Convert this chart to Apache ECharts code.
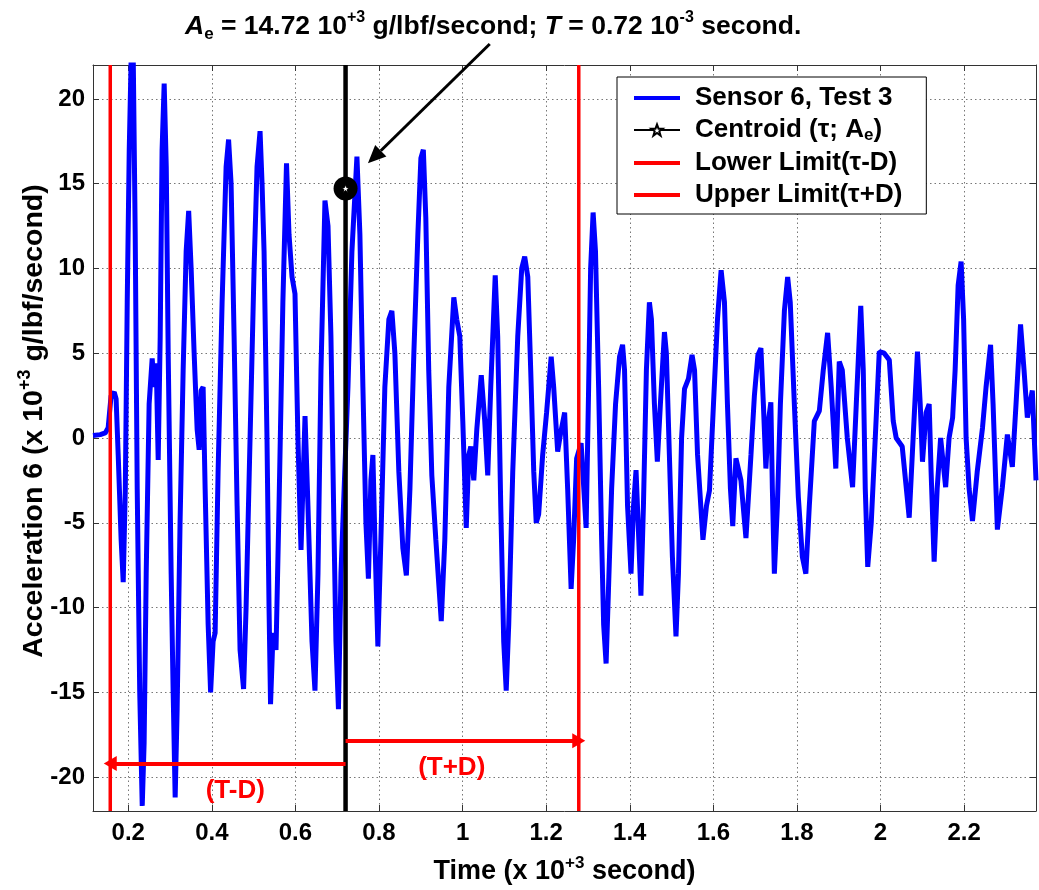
<!DOCTYPE html>
<html>
<head>
<meta charset="utf-8">
<script src="https://cdn.jsdelivr.net/npm/echarts@6/dist/echarts.min.js"></script>
<style>html,body{margin:0;padding:0;background:#fff;}#c{width:1039px;height:890px;}</style>
</head>
<body>
<div id="c"></div>
<script>
// ---------------- DATA ----------------
const timeK = [0.1157,0.133,0.145,0.152,0.159,0.1665,0.171,0.176,0.183,0.188,0.193,0.1976,0.2024,0.207,0.212,0.2167,0.2215,0.2275,0.2335,0.238,
0.243,0.250,0.2573,0.262,0.267,0.2717,0.2765,0.281,0.286,0.291,0.2956,0.3027,0.3075,0.3123,0.317,0.324,0.3314,0.3386,0.3446,0.3505,
0.3577,0.3649,0.3697,0.3744,0.3792,0.384,0.3912,0.3971,0.4031,0.4079,0.415,0.4246,0.4342,0.4401,0.4461,0.4533,0.4605,0.4676,0.476,0.482,
0.4915,0.5011,0.5082,0.5154,0.5202,0.525,0.532,0.5369,0.5405,0.5465,0.5536,0.5608,0.570,0.5787,0.5847,0.5919,0.599,0.606,0.6134,0.623,
0.630,0.6397,0.6468,0.654,0.6612,0.6707,0.678,0.685,0.692,0.697,0.703,0.709,0.7166,0.7257,0.7352,0.7472,0.7543,0.7615,0.7687,0.7747,
0.7806,0.7854,0.7902,0.7973,0.8045,0.814,0.8236,0.8308,0.838,0.8475,0.8571,0.8655,0.874,0.8834,0.893,0.9002,0.9061,0.912,0.919,0.9264,
0.936,0.949,0.9575,0.967,0.979,0.986,0.9933,1.0005,1.0088,1.0148,1.0196,1.0268,1.034,1.0447,1.053,1.0602,1.0674,1.0781,1.084,1.0913,
1.0984,1.1044,1.1104,1.12,1.132,1.1415,1.1486,1.156,1.163,1.1703,1.1762,1.182,1.1916,1.201,1.212,1.218,1.2275,1.2347,1.2442,1.2514,
1.2597,1.2657,1.2729,1.2836,1.2956,1.3016,1.3064,1.3123,1.318,1.3255,1.3327,1.3375,1.3434,1.349,1.3566,1.366,1.3756,1.3828,1.3875,1.3947,
1.403,1.409,1.415,1.42,1.4267,1.4327,1.4398,1.447,1.4518,1.459,1.466,1.4733,1.483,1.4876,1.4948,1.502,1.5106,1.5165,1.524,1.531,
1.5405,1.549,1.555,1.5622,1.5751,1.5836,1.5907,1.6003,1.6099,1.6186,1.6266,1.6337,1.6409,1.6464,1.654,1.666,1.678,1.69,1.6982,1.7066,
1.7138,1.7197,1.7257,1.7317,1.7376,1.7412,1.746,1.7532,1.7604,1.77,1.7778,1.784,1.7938,1.8034,1.8129,1.8213,1.8296,1.8416,1.8536,1.863,
1.8734,1.882,1.893,1.9013,1.9085,1.9205,1.9331,1.942,1.9527,1.9587,1.9635,1.9694,1.9778,1.9874,1.997,2.0088,2.021,2.0304,2.0375,2.0519,
2.0686,2.078,2.0884,2.095,2.1004,2.109,2.1164,2.121,2.1283,2.1355,2.1438,2.1558,2.164,2.1725,2.1785,2.1857,2.1928,2.1988,2.2048,2.212,
2.22,2.2313,2.244,2.2525,2.2633,2.2693,2.2796,2.2915,2.3035,2.3154,2.3242,2.335,2.3434,2.3513,2.3632,2.372];
const accel6 = [0.15,0.2,0.3,0.6,2.5,2.7,2.3,-1.0,-6,-8.5,-3,8,17,22.4,22.4,12,-3,-15,-21.7,-18,
-8,2,4.7,3,4.4,-1.3,6,17,20.9,16,5,-8,-15,-21.2,-16,-5,4,11,13.4,10,
5,0.5,-0.7,2.8,3.0,-3,-11,-15,-12,-11.5,-2,8,16,17.6,15,6,-4,-12.5,-14.8,-10,
0,10,16,18.1,15,11,0,-10,-15.7,-11.5,-12.5,-4,8,16.2,12,9.5,8.5,0,-6.6,1.3,
-4,-12,-14.9,-8,4,14,12.5,6,-5,-12,-16,-8,-3,3,11,16.6,12,3,-5,-8.3,
-2.5,-1.0,-6,-12.3,-6,3,7,7.5,5,-2,-6.5,-8.1,-3,5,12,16.5,17.0,13,4,-2.2,
-6,-10.8,-6,3,8.3,7,6,1,-5.3,-1,-0.5,-2.5,0.5,3.7,1,-2.2,3,9.6,6,-4,
-12,-14.9,-11,-2,6,10,10.7,9.5,4,-2,-5.0,-4.5,-1,1.5,4.8,3,-0.8,0.3,1.5,-3,
-8.9,-6,-1.2,-0.3,-5.3,3,10,13.3,11,3,-6,-11,-13.3,-9,-3,2,4.8,5.5,4,-4,
-8.0,-4,-1.9,-5,-9.3,-4,4,8.0,7,2,-1.4,2,6.25,5,-1,-7,-11.7,-8,0,2.9,
3.5,4.9,4,-1,-6,-4,-3.1,2,7,9.9,8,2,-3,-5.2,-1.2,-2.5,-5.9,-1.0,2.5,4.9,
5.3,2,-1.8,1,2.1,-3,-8.0,-4,2,7.5,9.5,8,2,-3.5,-7,-8.0,-4,1.0,1.6,4,
6.2,3,-1.8,4.5,4,0,-2.9,2,7.8,4,-3,-7.6,-5,0,5.1,5.0,4.6,1,0,-0.5,
-4.7,0,5.1,2,-1.4,1.5,2.0,-2,-7.3,-3,0,-2.9,0,1.2,4,9,10.4,7,0,-3,
-4.9,-2,0.6,3,5.5,2,-5.4,-2.9,0.2,-1.7,2,6.7,4,1.2,2.8,-2.5];

const xRange = [0.1157, 2.372];
const yRange = [-22, 22];
const centroidT = [0.72];
const centroidA = [14.72];
const lowerLimitT = [0.157];
const upperLimitT = [1.278];
const arrowRowY = [-19.2, -17.85];       // (T-D) and (T+D) arrows
const spanLabelText = ['(T-D)', '(T+D)'];
const spanLabelX = [0.456, 0.974];
const spanLabelY = [-20.8, -19.45];
const pointerFrom = [1.065, 23.24];      // black annotation arrow tail
const pointerTo = [0.7735, 16.2];        // black annotation arrow head
const seriesNames = ['Sensor 6, Test 3', 'Centroid (τ; Ae)', 'Lower Limit(τ-D)', 'Upper Limit(τ+D)'];

// ---------------- CHART ----------------
const FF = "'Liberation Sans', Arial, Helvetica, sans-serif";
const chart = echarts.init(document.getElementById('c'), null, {renderer: 'canvas'});

function supRich(size) {
  return {
    n: {fontSize: size, fontWeight: 'bold', fontFamily: FF, color: '#000', lineHeight: size + 6},
    i: {fontSize: size, fontWeight: 'bold', fontStyle: 'italic', fontFamily: FF, color: '#000', lineHeight: size + 6},
    sup: {fontSize: Math.round(size * 0.62), fontWeight: 'bold', fontFamily: FF, color: '#000', verticalAlign: 'top', lineHeight: Math.round(size * 0.62)},
    sub: {fontSize: Math.round(size * 0.66), fontWeight: 'bold', fontFamily: FF, color: '#000', verticalAlign: 'bottom', lineHeight: Math.round(size * 0.66)}
  };
}

const gridLine = {show: true, lineStyle: {color: '#777', type: [1.5, 3], width: 1}};

function xLabelFmt(v) {
  const k = v / 0.2;
  if (Math.abs(k - Math.round(k)) > 1e-6) return '';
  return String(parseFloat(v.toFixed(1)));
}
function yLabelFmt(v) {
  const k = v / 5;
  if (Math.abs(k - Math.round(k)) > 1e-6) return '';
  return String(Math.round(v));
}

const sensorData = timeK.map((t, i) => [t, accel6[i]]);

const legendData = seriesNames.map((n, i) => (i === 1
  ? {name: n}
  : {name: n, itemStyle: {opacity: 0}, lineStyle: {width: 4}}));

const option = {
  animation: false,
  backgroundColor: '#fff',
  title: {
    left: 180, top: 5,
    text: '{i|A}{sub|e}{n| = 14.72 10}{sup|+3}{n| g/lbf/second; }{i|T}{n| = 0.72 10}{sup|-3}{n| second.}',
    textStyle: {rich: supRich(26.5)}
  },
  grid: {left: 93, right: 2, top: 65, bottom: 74, containLabel: false},
  xAxis: [{
    type: 'value', min: xRange[0], max: xRange[1], minInterval: 0.2, maxInterval: 0.2,
    axisLine: {show: true, onZero: false, lineStyle: {color: '#333'}},
    axisTick: {show: true, inside: true, length: 6, lineStyle: {color: '#333'}},
    splitLine: gridLine,
    axisLabel: {formatter: xLabelFmt, fontSize: 24, fontWeight: 'bold', fontFamily: FF, color: '#000', margin: 10, showMinLabel: true, showMaxLabel: true},
    name: '{n|Time (x 10}{sup|+3}{n| second)}',
    nameLocation: 'middle', nameGap: 44, nameMoveOverlap: false,
    nameTextStyle: {rich: supRich(27)}
  }, {
    type: 'value', position: 'top', min: xRange[0], max: xRange[1], minInterval: 0.2, maxInterval: 0.2,
    axisLine: {show: true, onZero: false, lineStyle: {color: '#333'}},
    axisTick: {show: true, inside: true, length: 6, lineStyle: {color: '#333'}},
    splitLine: {show: false}, axisLabel: {show: false}
  }],
  yAxis: [{
    type: 'value', min: yRange[0], max: yRange[1], minInterval: 5, maxInterval: 5,
    axisLine: {show: true, onZero: false, lineStyle: {color: '#333'}},
    axisTick: {show: true, inside: true, length: 6, lineStyle: {color: '#333'}},
    splitLine: gridLine,
    axisLabel: {formatter: yLabelFmt, fontSize: 24, fontWeight: 'bold', fontFamily: FF, color: '#000', margin: 8},
    name: '{n|Acceleration 6 (x 10}{sup|+3}{n| g/lbf/second)}',
    nameLocation: 'middle', nameGap: 42, nameMoveOverlap: false,
    nameTextStyle: {rich: supRich(28.5), padding: [0, 0, 0, 34]}
  }, {
    type: 'value', position: 'right', min: yRange[0], max: yRange[1], minInterval: 5, maxInterval: 5,
    axisLine: {show: true, onZero: false, lineStyle: {color: '#333'}},
    axisTick: {show: true, inside: true, length: 6, lineStyle: {color: '#333'}},
    splitLine: {show: false}, axisLabel: {show: false}
  }],
  legend: {
    data: legendData,
    orient: 'vertical',
    left: 617, top: 77,
    backgroundColor: '#fff',
    borderColor: '#000', borderWidth: 1, borderRadius: 0,
    padding: [8, 24, 6, 15],
    itemWidth: 46, itemHeight: 14, itemGap: 6,
    selectedMode: false,
    formatter: function (name) {
      if (name === seriesNames[1]) return '{n|Centroid (τ; A}{sub|e}{n|)}';
      return '{n|' + name + '}';
    },
    textStyle: {
      fontSize: 26, fontWeight: 'bold', fontFamily: FF, color: '#000', padding: [0, 0, 0, 10],
      rich: {
        n: {fontSize: 26, fontWeight: 'bold', fontFamily: FF, color: '#000', lineHeight: 28},
        sub: {fontSize: 17, fontWeight: 'bold', fontFamily: FF, color: '#000', verticalAlign: 'bottom', lineHeight: 14}
      }
    }
  },
  series: [
    {
      name: seriesNames[0], type: 'line', data: sensorData, symbol: 'none', clip: true,
      lineStyle: {color: '#0000ff', width: 5}, itemStyle: {color: '#0000ff'}, z: 3
    },
    {
      name: 'centroidLine', type: 'line', symbol: 'none', clip: false,
      data: [[centroidT[0], yRange[0]], [centroidT[0], yRange[1]]],
      lineStyle: {color: '#000', width: 4.5}, z: 4,
      markLine: {
        silent: true, symbol: ['none', 'triangle'], symbolSize: [15, 13],
        label: {show: false},
        lineStyle: {color: '#ff0000', width: 4, type: 'solid', opacity: 1},
        itemStyle: {color: '#ff0000'},
        data: [
          [{coord: [centroidT[0], arrowRowY[0]]}, {coord: [lowerLimitT[0], arrowRowY[0]]}],
          [{coord: [centroidT[0], arrowRowY[1]]}, {coord: [upperLimitT[0], arrowRowY[1]]}]
        ]
      }
    },
    {
      name: seriesNames[2], type: 'line', symbol: 'none',
      data: [[lowerLimitT[0], yRange[0]], [lowerLimitT[0], yRange[1]]],
      lineStyle: {color: '#ff0000', width: 3.5}, itemStyle: {color: '#ff0000'}, z: 4
    },
    {
      name: seriesNames[3], type: 'line', symbol: 'none',
      data: [[upperLimitT[0], yRange[0]], [upperLimitT[0], yRange[1]]],
      lineStyle: {color: '#ff0000', width: 3.5}, itemStyle: {color: '#ff0000'}, z: 4
    },
    {
      name: 'centroidDot', type: 'scatter', symbol: 'circle', symbolSize: 24,
      data: [[centroidT[0], centroidA[0]]], itemStyle: {color: '#000', opacity: 1}, z: 5
    },
    {
      name: seriesNames[1], type: 'line',
      symbol: 'path://M12,1 L15,9 L23,9 L16.5,14 L19,22 L12,17 L5,22 L7.5,14 L1,9 L9,9 Z',
      symbolSize: 8, showSymbol: true,
      data: [[centroidT[0], centroidA[0]]],
      lineStyle: {color: '#000', width: 1},
      itemStyle: {color: '#fff', borderColor: '#000', borderWidth: 1}, z: 6
    },
    {
      name: 'spanLabels', type: 'scatter', symbolSize: 1,
      itemStyle: {color: 'rgba(0,0,0,0)', opacity: 1},
      data: spanLabelText.map((s, i) => ({name: s, value: [spanLabelX[i], spanLabelY[i]]})),
      label: {show: true, position: 'inside', formatter: p => p.name, fontSize: 26, fontWeight: 'bold', fontFamily: FF, color: '#ff0000', opacity: 1},
      z: 6
    }
  ]
};
chart.setOption(option);

// black pointer arrow from the title to the centroid peak
(function () {
  const p0 = chart.convertToPixel({xAxisIndex: 0, yAxisIndex: 0}, pointerFrom);
  const p1 = chart.convertToPixel({xAxisIndex: 0, yAxisIndex: 0}, pointerTo);
  const dx = p1[0] - p0[0], dy = p1[1] - p0[1];
  const len = Math.sqrt(dx * dx + dy * dy);
  const ux = dx / len, uy = dy / len;
  const L = 18, W = 8;
  const bx = p1[0] - ux * L, by = p1[1] - uy * L;
  const nx = -uy, ny = ux;
  chart.setOption({
    graphic: [
      {type: 'line', z: 100, shape: {x1: p0[0], y1: p0[1], x2: bx, y2: by}, style: {stroke: '#000', lineWidth: 3}},
      {type: 'polygon', z: 100, shape: {points: [[p1[0], p1[1]], [bx + nx * W, by + ny * W], [bx - nx * W, by - ny * W]]}, style: {fill: '#000'}}
    ]
  });
})();
</script>
</body>
</html>
